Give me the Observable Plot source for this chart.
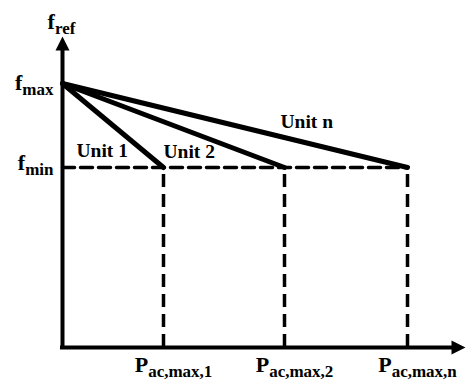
<!DOCTYPE html>
<html>
<head>
<meta charset="utf-8">
<script src="https://cdn.jsdelivr.net/npm/d3@7"></script>
<script src="https://cdn.jsdelivr.net/npm/@observablehq/plot@0.6"></script>
<style>
  html, body { margin: 0; padding: 0; background: #fff; }
</style>
</head>
<body>
<div id="chart"></div>
<script>
// ---- data (drawing units) ----
const unitNames = ["Unit 1", "Unit 2", "Unit n"];
const pMax = [101, 222, 345];                 // P_ac,max,i
const pLabels = ["P_ac,max,1", "P_ac,max,2", "P_ac,max,n"];
const fMax = 264;
const fMin = 180;
const fLabels = ["f_max", "f_min"];
const yAxisLabel = "f_ref";
const xAxisEnd = 403;
const yAxisEnd = 311;

// ---- derived tables ----
const unitLines = unitNames.flatMap((u, i) => [
  {unit: u, x: 0, y: fMax},
  {unit: u, x: pMax[i], y: fMin}
]);
const dashH = [{x: 0, y: fMin}, {x: pMax[pMax.length - 1], y: fMin}];
const dashV = pMax.map(p => ({x: p, y1: 0, y2: fMin}));

const arrowSym = {
  draw(ctx) {
    ctx.moveTo(0, 0);
    ctx.lineTo(7, 14);
    ctx.lineTo(-7, 14);
    ctx.closePath();
  }
};

const font = "Liberation Serif";

const unitLabelPos = [
  {text: unitNames[0], x: 14, y: 191},
  {text: unitNames[1], x: 101, y: 190},
  {text: unitNames[2], x: 218, y: 220}
];

const tx = {fontFamily: font, fontWeight: "bold", fill: "black", lineAnchor: "bottom"};

const chart = Plot.plot({
  width: 468,
  height: 381,
  marginLeft: 62,
  marginRight: 0,
  marginTop: 0,
  marginBottom: 34,
  x: {domain: [0, 406], axis: null},
  y: {domain: [0, 347], axis: null},
  style: {background: "#fff", overflow: "visible"},
  marks: [
    // dashed guides
    Plot.line(dashH, {x: "x", y: "y", stroke: "black", strokeWidth: 3.5, strokeDasharray: "12,6"}),
    Plot.ruleX(dashV, {x: "x", y1: "y1", y2: "y2", stroke: "black", strokeWidth: 3.5, strokeDasharray: "13,7"}),
    // axes
    Plot.ruleX([0], {y1: 0, y2: yAxisEnd - 8, stroke: "black", strokeWidth: 4}),
    Plot.ruleY([0], {x1: -2, x2: xAxisEnd - 8, stroke: "black", strokeWidth: 4}),
    Plot.dot([{x: 0, y: yAxisEnd}], {x: "x", y: "y", symbol: arrowSym, fill: "black", stroke: "none", rotate: 0}),
    Plot.dot([{x: xAxisEnd, y: 0}], {x: "x", y: "y", symbol: arrowSym, fill: "black", stroke: "none", rotate: 90}),
    // unit droop lines
    Plot.line(unitLines, {x: "x", y: "y", z: "unit", stroke: "black", strokeWidth: 5, strokeLinecap: "round"}),
    // unit labels
    Plot.text(unitLabelPos, {x: "x", y: "y", text: "text", textAnchor: "start", fontSize: 19.5, ...tx}),
    // f labels
    Plot.text([{t: fLabels[0], y: fMax}], {x: () => 0, y: "y", text: "t", textAnchor: "end", dx: -9, dy: 6, fontSize: 22, ...tx}),
    Plot.text([{t: fLabels[1], y: fMin}], {x: () => 0, y: "y", text: "t", textAnchor: "end", dx: -9, dy: 2, fontSize: 22, ...tx}),
    Plot.text([{t: yAxisLabel, y: yAxisEnd}], {x: () => 0, y: "y", text: "t", textAnchor: "middle", dx: -1, dy: -8, fontSize: 22, ...tx}),
    // P labels
    Plot.text(pMax.map((p, i) => ({x: p, t: pLabels[i]})), {x: "x", y: () => 0, text: "t", textAnchor: "middle", dx: 10, dy: 24, fontSize: 22, ...tx})
  ]
});

// turn "a_b" into a main tspan + subscript tspan
d3.select(chart).selectAll("text").each(function () {
  const s = this.textContent;
  const k = s.indexOf("_");
  if (k < 0) return;
  const sel = d3.select(this);
  sel.text(null);
  sel.append("tspan").text(s.slice(0, k));
  sel.append("tspan").attr("font-size", 17).attr("dy", 5).text(s.slice(k + 1));
});

document.getElementById("chart").append(chart);
</script>
</body>
</html>
